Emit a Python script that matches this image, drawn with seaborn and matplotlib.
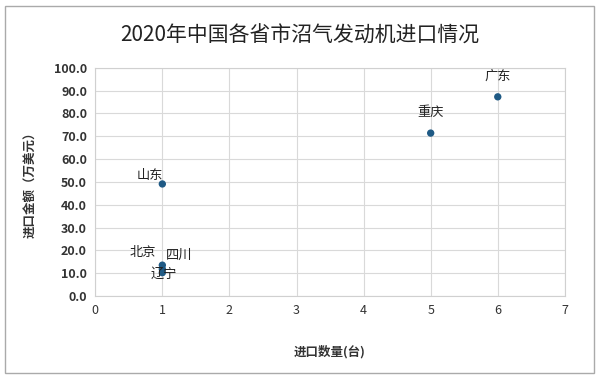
import matplotlib
matplotlib.use("Agg")
import matplotlib.pyplot as plt
import seaborn as sns
import pandas as pd

provinces = ["广东", "重庆", "山东", "北京", "四川", "辽宁"]
quantity = [6, 5, 1, 1, 1, 1]
amount = [87.3, 71.4, 49.1, 13.5, 11.8, 10.2]
label_offsets = [(0, 15), (0, 15), (-9, 6), (-14, 9), (12, 10), (1, -1)]

df = pd.DataFrame({"province": provinces, "qty": quantity, "amt": amount})

sns.set_theme(style="whitegrid")
plt.rcParams["font.family"] = ["Noto Sans CJK SC", "DejaVu Sans"]

fig = plt.figure(figsize=(5.99, 3.77), dpi=100)
ax = fig.add_axes([0.159, 0.215, 0.784, 0.605])

sns.scatterplot(data=df, x="qty", y="amt", ax=ax, color="#1f5a85", s=28,
                edgecolor="none", zorder=3)

for name, x, y, (dx, dy) in zip(provinces, quantity, amount, label_offsets):
    ax.annotate(name, (x, y), xytext=(dx, dy), textcoords="offset points",
                ha="center", va="center", fontsize=9.5, color="#222222")

ax.set_xlim(0, 7)
ax.set_ylim(0, 100)
ax.set_xticks(range(0, 8))
ax.set_yticks([i * 10 for i in range(11)])
ax.set_yticklabels([f"{i * 10:.1f}" for i in range(11)])
ax.tick_params(axis="both", labelsize=9, colors="#333333", length=0, pad=6)
for lbl in ax.get_yticklabels():
    lbl.set_fontweight("bold")
ax.grid(True, color="#d9d9d9", linewidth=0.8)
for sp in ax.spines.values():
    sp.set_color("#d0d0d0")
    sp.set_linewidth(0.8)

ax.set_xlabel("进口数量(台)", fontsize=9, fontweight="bold", color="#333333", labelpad=20)
ax.set_ylabel("进口金额（万美元）", fontsize=9, fontweight="bold", color="#333333", labelpad=12)

fig.text(0.5, 0.905, "2020年中国各省市沼气发动机进口情况", ha="center", va="center",
         fontsize=15, color="#222222")

border = plt.Rectangle((0.008, 0.01), 0.984, 0.975, transform=fig.transFigure,
                       fill=False, edgecolor="#aaaaaa", linewidth=1)
fig.patches.append(border)

fig.savefig("out.png", dpi=100)
